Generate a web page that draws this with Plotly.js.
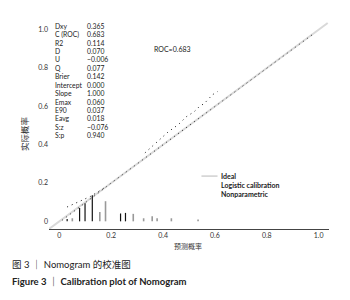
<!DOCTYPE html>
<html>
<head>
<meta charset="utf-8">
<script src="https://cdn.plot.ly/plotly-3.0.1.min.js"></script>
<style>html,body{margin:0;padding:0;background:#fff;}#chart{width:350px;height:300px;}</style>
</head>
<body>
<div id="chart"></div>
<script>
// Ideal line
const idealX = [-0.04, 1.035];
const idealY = [-0.04, 1.035];
// Nonparametric (dotted, near diagonal)
const nonparX = [0.01,0.05,0.1,0.15,0.2,0.25,0.3,0.35,0.4,0.45,0.5,0.55,0.6,0.65,0.7,0.75,0.8,0.85,0.9,0.95,0.98];
const nonparY = [0.005,0.045,0.095,0.148,0.2,0.25,0.3,0.35,0.4,0.45,0.5,0.548,0.598,0.648,0.698,0.748,0.797,0.847,0.897,0.948,0.978];
// Logistic calibration (dotted, above diagonal, two segments)
const logisX = [0.03,0.06,0.09,0.12,0.15,0.18,null,0.33,0.42,0.46,0.49,0.52,0.54,0.56,0.59,0.61];
const logisY = [0.075,0.093,0.11,0.13,0.155,0.18,null,0.357,0.467,0.506,0.546,0.572,0.599,0.616,0.66,0.677];
// Spike histogram of predicted probabilities
const spikeX = [0.030,0.050,0.078,0.099,0.127,0.156,0.178,0.236,0.255,0.285,0.325,0.358,0.377,0.432,0.535];
const spikeH = [0.012,0.016,0.07,0.095,0.136,0.049,0.105,0.041,0.044,0.039,0.016,0.026,0.016,0.016,0.010];
const spikeGroup = ['k','g','k','k','k','g','g','k','k','g','g','g','g','g','g'];
// Stats table
const statLabels = ['Dxy','C (ROC)','R2','D','U','Q','Brier','Intercept','Slope','Emax','E90','Eavg','S:z','S:p'];
const statValues = ['0.365','0.683','0.114','0.070','\u22120.006','0.077','0.142','0.000','1.000','0.060','0.037','0.018','\u22120.076','0.940'];
// Axis ticks
const xTickVals = [0,0.2,0.4,0.6,0.8,1.0];
const xTickText = ['0','0.2','0.4','0.6','0.8','1.0'];
const yTickVals = [0,0.2,0.4,0.6,0.8,1.0];
const yTickText = ['0','0.2','0.4','0.6','0.8','1.0'];
const legendNames = ['Ideal','Logistic calibration','Nonparametric'];

const FONT = 'Lato, Noto Sans CJK SC, sans-serif';

function spikes(group){
  const xs=[], ys=[];
  spikeX.forEach((x,i)=>{ if(spikeGroup[i]===group){ xs.push(x,x,null); ys.push(0,spikeH[i],null);} });
  return {x:xs,y:ys};
}
const sk = spikes('k'), sg = spikes('g');

const traces = [
  {x:idealX,y:idealY,mode:'lines',line:{color:'#d9d9d9',width:2},hoverinfo:'skip',showlegend:false},
  {x:nonparX,y:nonparY,mode:'lines',line:{color:'#222',width:1,dash:'1px,4px'},showlegend:false},
  {x:logisX,y:logisY,mode:'lines',line:{color:'#111',width:1,dash:'1px,4px'},connectgaps:false,showlegend:false},
  {x:sk.x,y:sk.y,mode:'lines',line:{color:'#111',width:1.2},showlegend:false},
  {x:sg.x,y:sg.y,mode:'lines',line:{color:'#999',width:1.6},showlegend:false}
];

const ann = [];
const rowTop = 1.021, rowStep = 0.044;
statLabels.forEach((l,i)=>{
  ann.push({x:-0.023,y:rowTop-rowStep*i,xref:'x',yref:'y',text:l,showarrow:false,xanchor:'left',yanchor:'middle',font:{family:FONT,size:6.8,color:'#222'}});
  ann.push({x:0.097,y:rowTop-rowStep*i,xref:'x',yref:'y',text:statValues[i],showarrow:false,xanchor:'left',yanchor:'middle',font:{family:FONT,size:6.8,color:'#222'}});
});
ann.push({x:0.359,y:0.9,xref:'x',yref:'y',text:'ROC=0.683',showarrow:false,xanchor:'left',yanchor:'middle',font:{family:FONT,size:7,color:'#222'}});
const legY = [0.236,0.19,0.145];
legendNames.forEach((n,i)=>{
  ann.push({x:0.614,y:legY[i],xref:'x',yref:'y',text:'<b>'+n+'</b>',showarrow:false,xanchor:'left',yanchor:'middle',font:{family:FONT,size:7,color:'#222'}});
});
ann.push({x:-0.086,y:0.46,xref:'paper',yref:'y',text:'实际概率',textangle:-90,showarrow:false,xanchor:'center',yanchor:'middle',font:{family:FONT,size:8.5,color:'#333'}});
ann.push({x:0.498,y:-0.084,xref:'x',yref:'paper',text:'预测概率',showarrow:false,xanchor:'center',yanchor:'middle',font:{family:FONT,size:7,color:'#333'}});
ann.push({x:-0.139,y:-0.171,xref:'paper',yref:'paper',text:'图 3 ｜ Nomogram 的校准图',showarrow:false,xanchor:'left',yanchor:'middle',font:{family:FONT,size:9.5,color:'#222'}});
ann.push({x:-0.139,y:-0.253,xref:'paper',yref:'paper',text:'<b>Figure 3 ｜ Calibration plot of Nomogram</b>',showarrow:false,xanchor:'left',yanchor:'middle',font:{family:FONT,size:9.5,color:'#222'}});

const layout = {
  width:350,height:300,
  margin:{l:49,r:21,t:22,b:71},
  paper_bgcolor:'#fff',plot_bgcolor:'#fff',
  showlegend:false,
  xaxis:{range:[-0.04,1.04],showgrid:false,zeroline:false,showline:true,linecolor:'#444',linewidth:1,
    tickvals:xTickVals,ticktext:xTickText,ticks:'',tickfont:{family:FONT,size:7,color:'#333'}},
  yaxis:{range:[-0.04,1.04],showgrid:false,zeroline:false,showline:false,
    tickvals:yTickVals,ticktext:yTickText,ticks:'',tickfont:{family:FONT,size:7,color:'#333'}},
  shapes:[{type:'line',xref:'x',yref:'y',x0:0.548,x1:0.61,y0:0.236,y1:0.236,line:{color:'#d0d0d0',width:1.5}}],
  annotations:ann
};
Plotly.newPlot('chart',traces,layout,{displayModeBar:false,staticPlot:true});
</script>
</body>
</html>
